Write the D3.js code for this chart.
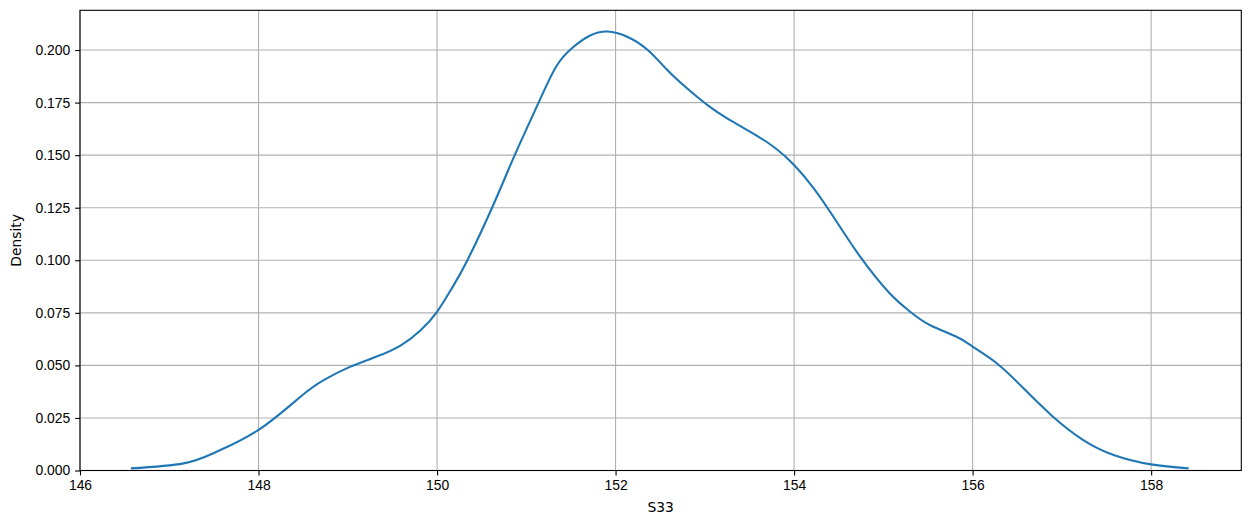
<!DOCTYPE html>
<html>
<head>
<meta charset="utf-8">
<script src="https://cdn.jsdelivr.net/npm/d3@7"></script>
<style>
  body { margin: 0; background: #fff; }
  svg { display: block; font-family: "DejaVu Sans", sans-serif; }
  .tick text { font-size: 13.9px; fill: #000; }
</style>
</head>
<body>
<svg id="chart" width="1251" height="525"></svg>
<script>
// KDE curve of S33
const s33 = [146.57, 147.16, 147.53, 148.0, 148.47, 148.73, 149.03, 149.33, 149.59,
  149.81, 150.0, 150.17, 150.34, 150.63, 150.87, 151.14, 151.34, 151.52, 151.71, 151.91,
  152.13, 152.36, 152.58, 152.8, 153.03, 153.25, 153.51, 153.77, 154.0, 154.22, 154.44,
  154.74, 155.07, 155.3, 155.52, 155.82, 156.0, 156.27, 156.57, 156.9, 157.24, 157.58,
  158.0, 158.42];
const density = [0.001, 0.0034, 0.0089, 0.0193, 0.0351, 0.043, 0.0494, 0.0543, 0.0594,
  0.0665, 0.0755, 0.087, 0.1, 0.1263, 0.15, 0.1752, 0.1925, 0.2012, 0.2068, 0.2088,
  0.2063, 0.2, 0.1905, 0.1818, 0.1738, 0.1675, 0.1611, 0.154, 0.1453, 0.1342, 0.1207,
  0.1017, 0.0843, 0.0755, 0.0692, 0.0636, 0.0589, 0.051, 0.0391, 0.0256, 0.0145, 0.0074,
  0.0029, 0.001];
const xTicks = [146, 148, 150, 152, 154, 156, 158];
const yTicks = [0, 0.025, 0.05, 0.075, 0.1, 0.125, 0.15, 0.175, 0.2];

const svg = d3.select("#chart");
const margin = {left: 80, right: 1251 - 1241.3, top: 10.3, bottom: 525 - 470.5};
const width = 1251 - margin.left - margin.right;
const height = 525 - margin.top - margin.bottom;

const x = d3.scaleLinear().domain([146, 159.01]).range([0, width]);
const y = d3.scaleLinear().domain([0, 0.2189]).range([height, 0]);

const g = svg.append("g").attr("transform", `translate(${margin.left},${margin.top})`);

// grid
g.append("g").selectAll("line.vgrid").data(xTicks).join("line")
    .attr("x1", d => x(d)).attr("x2", d => x(d))
    .attr("y1", 0).attr("y2", height)
    .attr("stroke", "#b0b0b0").attr("stroke-width", 1.1);
g.append("g").selectAll("line.hgrid").data(yTicks).join("line")
    .attr("x1", 0).attr("x2", width)
    .attr("y1", d => y(d)).attr("y2", d => y(d))
    .attr("stroke", "#b0b0b0").attr("stroke-width", 1.1);

// curve
const pts = s33.map((v, i) => [v, density[i]]);
g.append("path")
    .datum(pts)
    .attr("fill", "none")
    .attr("stroke", "#1f77b4")
    .attr("stroke-width", 2.1)
    .attr("d", d3.line().x(d => x(d[0])).y(d => y(d[1])).curve(d3.curveNatural));

// axes
const xAxis = g.append("g").attr("transform", `translate(0,${height})`)
    .call(d3.axisBottom(x).tickValues(xTicks).tickFormat(d3.format("d")).tickSize(4.9).tickPadding(4.9));
const yAxis = g.append("g")
    .call(d3.axisLeft(y).tickValues(yTicks).tickFormat(d3.format(".3f")).tickSize(4.9).tickPadding(4.9));
[xAxis, yAxis].forEach(a => {
  a.select(".domain").remove();
  a.selectAll(".tick line").attr("stroke", "#000").attr("stroke-width", 1.1);
});

// frame
g.append("rect").attr("x", 0).attr("y", 0).attr("width", width).attr("height", height)
    .attr("fill", "none").attr("stroke", "#000").attr("stroke-width", 1.1);

// labels
svg.append("text")
    .attr("x", margin.left + width / 2).attr("y", 512)
    .attr("text-anchor", "middle").attr("font-size", "13.9px")
    .text("S33");
svg.append("text")
    .attr("transform", `translate(21,${margin.top + height / 2}) rotate(-90)`)
    .attr("text-anchor", "middle").attr("font-size", "13.9px")
    .text("Density");
</script>
</body>
</html>
